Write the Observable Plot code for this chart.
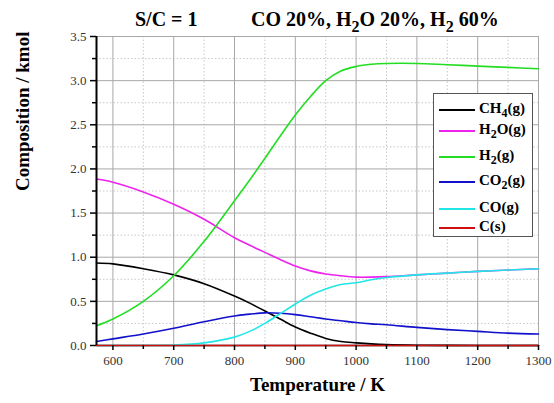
<!DOCTYPE html>
<html>
<head>
<meta charset="utf-8">
<script src="https://cdn.jsdelivr.net/npm/d3@7"></script>
<script src="https://cdn.jsdelivr.net/npm/@observablehq/plot@0.6"></script>
<style>
  body { margin: 0; background: white; }
  #wrap { position: relative; width: 554px; height: 403px; font-family: "Liberation Serif", "Times New Roman", serif; }
  .ttl { position: absolute; top: 8px; font-weight: bold; font-size: 20px; white-space: nowrap; color: #000; }
  sub { font-size: 0.8em; vertical-align: -0.35em; line-height: 0; }
  #legend { position: absolute; left: 433px; top: 93px; width: 100px; height: 144px; box-sizing: border-box;
            background: white; border: 1px solid #555; }
  .li { position: absolute; left: 0; white-space: nowrap; font-weight: bold; font-size: 15px; }
  .li span.sw { position: absolute; left: 5px; top: -1px; width: 36px; height: 2px; }
  .li span.lb { position: absolute; left: 45px; top: -10px; }
</style>
</head>
<body>
<div id="wrap">
  <div id="chart"></div>
  <div class="ttl" style="left:135px">S/C = 1</div>
  <div class="ttl" style="left:251px">CO 20%, H<sub>2</sub>O 20%, H<sub>2</sub> 60%</div>
  <div id="legend"></div>
</div>
<script>
// Temperatures (K)
const temps = [573, 600, 650, 700, 750, 800, 825, 850, 875, 900, 925, 950, 975, 1000, 1025, 1050, 1100, 1150, 1200, 1250, 1300];
// Composition (kmol)
const ch4 = [0.935, 0.925, 0.87, 0.80, 0.70, 0.56, 0.48, 0.39, 0.30, 0.21, 0.14, 0.08, 0.045, 0.03, 0.018, 0.01, 0.003, 0.001, 0, 0, 0];
const h2o = [1.885, 1.85, 1.74, 1.60, 1.43, 1.22, 1.135, 1.055, 0.975, 0.90, 0.845, 0.81, 0.79, 0.775, 0.775, 0.78, 0.80, 0.82, 0.84, 0.855, 0.87];
const h2  = [0.225, 0.30, 0.50, 0.79, 1.18, 1.64, 1.875, 2.12, 2.37, 2.61, 2.82, 3.00, 3.11, 3.16, 3.185, 3.195, 3.195, 3.18, 3.165, 3.15, 3.135];
const co2 = [0.045, 0.075, 0.13, 0.195, 0.27, 0.335, 0.355, 0.37, 0.365, 0.35, 0.325, 0.30, 0.28, 0.26, 0.245, 0.235, 0.205, 0.18, 0.16, 0.14, 0.13];
const co  = [0, 0, 0, 0.005, 0.03, 0.095, 0.16, 0.25, 0.36, 0.47, 0.57, 0.64, 0.69, 0.71, 0.745, 0.77, 0.80, 0.82, 0.84, 0.855, 0.87];
const cs  = [0, 0, 0, 0, 0, 0, 0, 0, 0, 0, 0, 0, 0, 0, 0, 0, 0, 0, 0, 0, 0];

const seriesNames = ["CH4(g)", "H2O(g)", "H2(g)", "CO2(g)", "CO(g)", "C(s)"];
const seriesLabels = ["CH<sub>4</sub>(g)", "H<sub>2</sub>O(g)", "H<sub>2</sub>(g)", "CO<sub>2</sub>(g)", "CO(g)", "C(s)"];
const seriesValues = [ch4, h2o, h2, co2, co, cs];
const seriesColors = ["#000000", "#ee22ee", "#22dd22", "#1111cc", "#22e6e6", "#d01010"];

const xTicks = [600, 700, 800, 900, 1000, 1100, 1200, 1300];
const xMinor = [650, 750, 850, 950, 1050, 1150, 1250];
const yTicks = [0, 0.5, 1.0, 1.5, 2.0, 2.5, 3.0, 3.5];
const yMinor = [0.25, 0.75, 1.25, 1.75, 2.25, 2.75, 3.25];

const xDomain = [573, 1300];
const yDomain = [0, 3.5];

const rows = [];
seriesNames.forEach((name, i) => {
  temps.forEach((t, j) => rows.push({series: name, T: t, v: seriesValues[i][j]}));
});

const lineMarks = seriesNames.map((name, i) =>
  Plot.line(rows.filter(d => d.series === name), {
    x: "T", y: "v", stroke: seriesColors[i], strokeWidth: 1.6, curve: "catmull-rom"
  })
);

const chart = Plot.plot({
  width: 554,
  height: 403,
  marginTop: 36,
  marginBottom: 58,
  marginLeft: 96,
  marginRight: 16,
  style: { fontFamily: "Liberation Serif, serif", background: "white", overflow: "visible" },
  x: { domain: xDomain },
  y: { domain: yDomain },
  marks: [
    Plot.gridX(xMinor, { stroke: "#c8c8c8", strokeOpacity: 1, strokeDasharray: "1.5,2" }),
    Plot.gridY(yMinor, { stroke: "#c8c8c8", strokeOpacity: 1, strokeDasharray: "1.5,2" }),
    Plot.gridX(xTicks, { stroke: "#a8a8a8", strokeOpacity: 1 }),
    Plot.gridY(yTicks, { stroke: "#a8a8a8", strokeOpacity: 1 }),
    Plot.ruleY([yDomain[1]], { stroke: "#a8a8a8" }),
    Plot.ruleX([xDomain[1]], { stroke: "#a8a8a8" }),
    Plot.ruleY([0], { stroke: "#000", strokeWidth: 1.5 }),
    ...lineMarks,
    Plot.ruleX([xDomain[0]], { stroke: "#000", strokeWidth: 2 }),
    Plot.axisY(yTicks, { tickSize: 6, tickPadding: 4, tickFormat: d3.format(".1f"), fontSize: 13, color: "#333", label: null, stroke: "#000", strokeWidth: 1.5 }),
    Plot.axisY(yMinor, { tickSize: 4, tickFormat: () => "", label: null, stroke: "#000", strokeWidth: 1.5 }),
    Plot.axisX(xTicks, { tickSize: 5, tickPadding: 5, tickFormat: d3.format("d"), fontSize: 13, color: "#333", label: null, stroke: "#000", strokeWidth: 1.5 }),
    Plot.axisX(xMinor, { tickSize: 4, tickFormat: () => "", label: null, stroke: "#000", strokeWidth: 1.5 }),
    Plot.text(["Composition / kmol"], { frameAnchor: "left", dx: -74, rotate: -90, fontSize: 19, fontWeight: "bold", fill: "#000" }),
    Plot.text(["Temperature / K"], { frameAnchor: "bottom", dy: 45, fontSize: 19, fontWeight: "bold", fill: "#000" })
  ]
});
document.getElementById("chart").appendChild(chart);

// Legend
const legendTops = [16, 37, 63, 88, 115, 134];
const legend = document.getElementById("legend");
seriesNames.forEach((name, i) => {
  const item = document.createElement("div");
  item.className = "li";
  item.style.top = legendTops[i] + "px";
  item.innerHTML = `<span class="sw" style="background:${seriesColors[i]}"></span><span class="lb">${seriesLabels[i]}</span>`;
  legend.appendChild(item);
});
</script>
</body>
</html>
